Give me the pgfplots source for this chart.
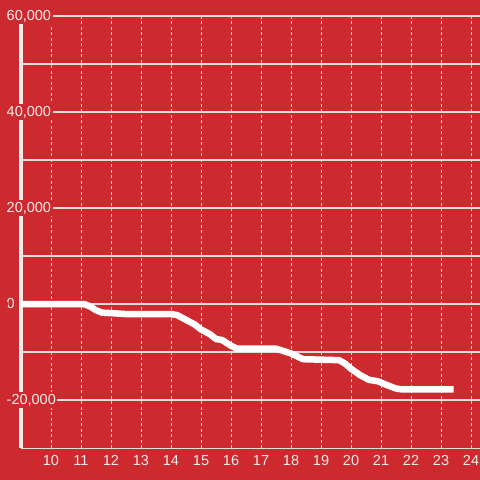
\documentclass[border=0pt]{standalone}
\usepackage{fontspec}
\setmainfont{Liberation Sans}
\usepackage{pgfplots}
\pgfplotsset{compat=1.18}
\definecolor{bg}{RGB}{204,42,46}
\definecolor{txt}{RGB}{238,238,238}
\definecolor{gridc}{RGB}{222,222,222}
\begin{document}
\begin{tikzpicture}
\useasboundingbox (-21bp,-32bp) rectangle (459bp,448bp);
\fill[bg] (-21bp,-32bp) rectangle (459bp,448bp);
\begin{axis}[
    at={(0,0)}, anchor=south west,
    scale only axis,
    width=459bp, height=432bp,
    xmin=9, xmax=24.3,
    ymin=-30000, ymax=60000,
    xtick={10,...,24},
    ytick={-20000,0,20000,40000,60000},
    scaled y ticks=false,
    minor y tick num=1,
    extra y ticks={0},
    extra y tick labels={},
    extra y tick style={grid style={line width=3bp, draw=txt, solid}},
    major tick length=0pt, minor tick length=0pt,
    xmajorgrids, ymajorgrids, yminorgrids,
    major x grid style={draw=gridc, line width=1bp, dash pattern=on 3bp off 2.5bp},
    major y grid style={draw=gridc, line width=1.2bp},
    minor y grid style={draw=gridc, line width=1.2bp},
    axis lines=left,
    axis line style={-},
    x axis line style={draw=gridc, line width=1bp},
    y axis line style={draw=txt, line width=3bp},
    /pgf/number format/assume math mode=true,
    /pgf/number format/1000 sep={,},
    tick label style={font=\fontsize{14.5bp}{16bp}\selectfont, text=txt},
    xticklabel style={yshift=-4bp},
    yticklabel style={anchor=west, xshift=-16bp, fill=bg, inner xsep=1.5bp, inner ysep=2bp,
        append after command={}},
    clip=false,
]
\addplot[white, line width=6.5bp, line join=round] coordinates {
    (9,0) (11.1,0) (11.3,-500) (11.5,-1300) (11.7,-1800) (12,-1900)
    (12.5,-2100) (14,-2100) (14.2,-2300) (14.5,-3300) (14.8,-4300)
    (15.0,-5300) (15.3,-6300) (15.5,-7300) (15.7,-7500) (16.0,-8700)
    (16.2,-9300) (17.5,-9300) (17.8,-9900) (18.0,-10300) (18.4,-11500)
    (19.6,-11700) (19.8,-12400) (20.0,-13500) (20.3,-14800) (20.6,-15800)
    (20.9,-16100) (21.2,-16900) (21.5,-17600) (21.7,-17800) (23.42,-17800)
};
\end{axis}
\end{tikzpicture}
\end{document}
